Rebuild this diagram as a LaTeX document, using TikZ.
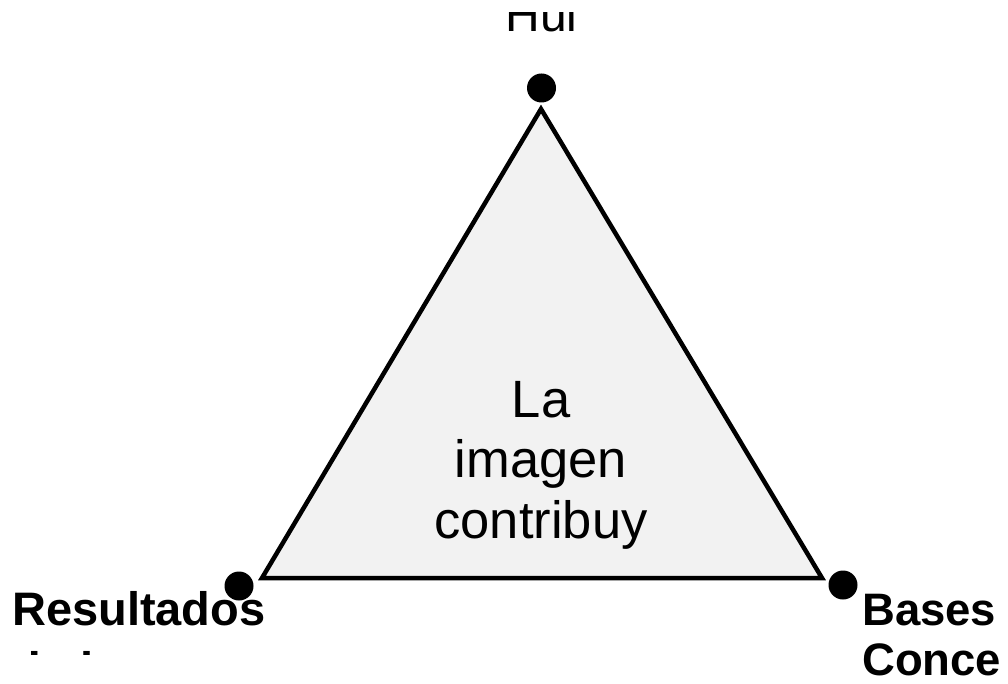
\documentclass[tikz,border=0pt]{standalone}
\usepackage{fontspec}
\setmainfont{Liberation Sans}
\begin{document}
\begin{tikzpicture}[x=1pt,y=-1pt,
  tri/.style={draw=black,line width=4.5pt,fill=black!5,line join=miter},
  dot/.style={circle,fill=black,inner sep=0pt,minimum size=29pt},
  lbl/.style={inner sep=0pt,font=\fontsize{47}{49}\selectfont\bfseries},
  rlbl/.style={inner sep=0pt,font=\fontsize{45.5}{49}\selectfont\bfseries},
  toplbl/.style={inner sep=0pt,font=\fontsize{48}{50}\selectfont},
  mid/.style={inner sep=0pt,align=center,font=\fontsize{52.5}{60.5}\selectfont}]
\useasboundingbox (0,0) rectangle (1008,684);
\fill[white] (0,0) rectangle (1008,684);
% vertices
\coordinate (A) at (541,109);
\coordinate (B) at (262,578);
\coordinate (C) at (822,578);
\draw[tri] (A) -- (B) -- (C) -- cycle;
% dots
\node[dot] (dA) at (541.5,88) {};
\node[dot] (dB) at (239,586) {};
\node[dot] (dC) at (843,585) {};
% centre text
\node[mid,anchor=base] (t1) at (541,417) {La};
\node[mid,anchor=base] (t2) at (541,477) {imagen};
\node[mid,anchor=base] (t3) at (541,538) {contribuy};
% top label
\begin{scope}
\clip (400,12.5) rectangle (700,60);
\node[toplbl,anchor=base] (hui) at (541.5,32) {Hui};
\end{scope}
% left label
\begin{scope}
\clip (0,560) rectangle (320,654);
\node[lbl,anchor=base west] (r1) at (12,625) {Resultados};
\node[lbl,anchor=base west] (r2) at (12,685) {de las};
\end{scope}
% right label
\begin{scope}
\clip (800,560) rectangle (1002,684);
\node[rlbl,anchor=base west] (b1) at (862,625) {Bases};
\node[rlbl,anchor=base west] (b2) at (862,675) {Conceptuales};
\end{scope}
\end{tikzpicture}
\end{document}
